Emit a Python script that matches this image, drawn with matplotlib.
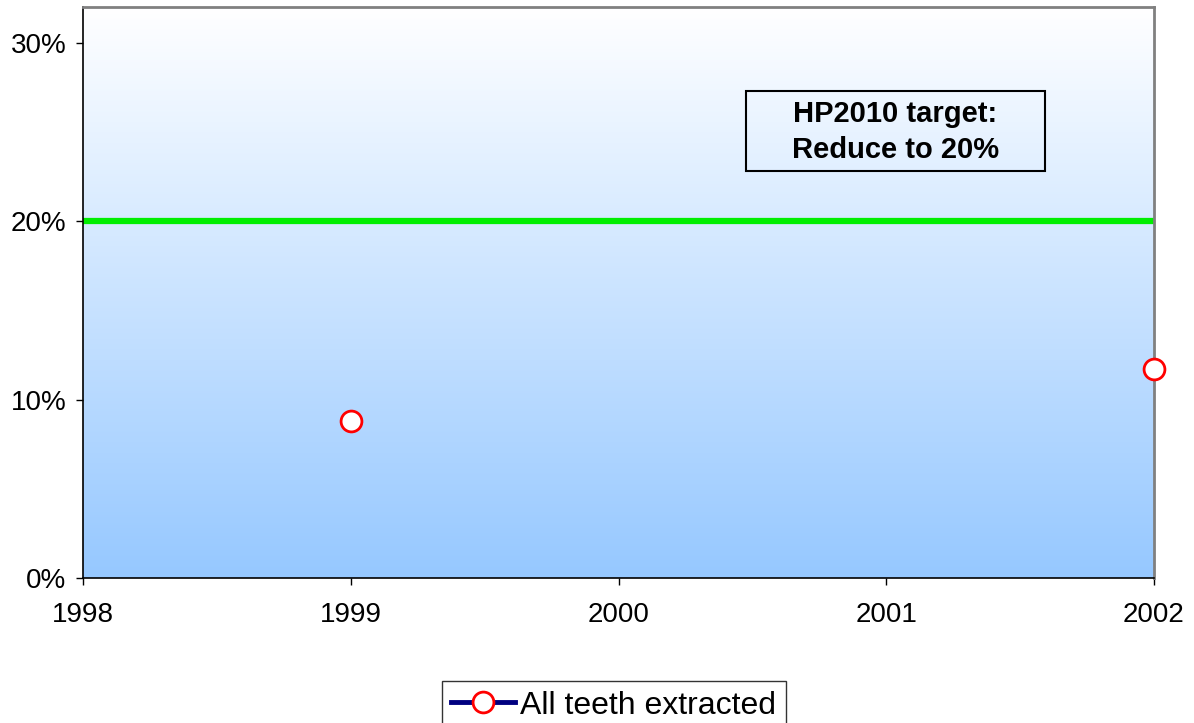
import numpy as np
import matplotlib.pyplot as plt
from matplotlib.colors import LinearSegmentedColormap
from matplotlib.patches import Rectangle
from matplotlib.ticker import FuncFormatter

years = [1999, 2002]
all_teeth = [0.088, 0.117]
target = 0.20
x_ticks = [1998, 1999, 2000, 2001, 2002]
y_ticks = [0.0, 0.1, 0.2, 0.3]

plt.rcParams['font.family'] = ['Liberation Sans', 'DejaVu Sans']

fig = plt.figure(figsize=(11.94, 7.23), dpi=100)
ax = fig.add_axes([83 / 1194, 1 - 578 / 723, (1154 - 83) / 1194, (578 - 7) / 723])

# background gradient, white at top to light blue at bottom
cmap = LinearSegmentedColormap.from_list('bg', ['#96c8ff', '#ffffff'])
grad = np.linspace(0, 1, 256).reshape(-1, 1)
ax.imshow(grad, aspect='auto', cmap=cmap, origin='lower',
          extent=[1998, 2002, 0, 0.32], zorder=0)

ax.axhline(target, color='#00ee00', linewidth=4.5, zorder=2)
ax.plot(years, all_teeth, color='#000080', linewidth=3, linestyle='none',
        marker='o', markersize=15, markerfacecolor='white',
        markeredgecolor='#ff0000', markeredgewidth=2, clip_on=False,
        zorder=3, label='All teeth extracted')
# legend handle shows the line too
handle, = ax.plot([], [], color='#000080', linewidth=3.5, marker='o',
                  markersize=15, markerfacecolor='white',
                  markeredgecolor='#ff0000', markeredgewidth=2)

ax.set_xlim(1998, 2002)
ax.set_ylim(0, 0.32)
ax.set_xticks(x_ticks)
ax.set_yticks(y_ticks)
ax.yaxis.set_major_formatter(FuncFormatter(lambda v, p: f'{v * 100:.0f}%'))
ax.tick_params(axis='both', direction='out', length=5, width=1,
               labelsize=20, colors='black')
ax.tick_params(axis='x', pad=12)
ax.tick_params(axis='y', pad=7)

for side in ['left', 'bottom']:
    ax.spines[side].set_color('black')
    ax.spines[side].set_linewidth(1.2)
for side in ['top', 'right']:
    ax.spines[side].set_color('#808080')
    ax.spines[side].set_linewidth(2)

# target annotation box
fig.add_artist(Rectangle((746 / 1194, 1 - 171 / 723), 299 / 1194, 80 / 723,
                         transform=fig.transFigure, facecolor='none',
                         edgecolor='black', linewidth=1.5))
fig.text(895.5 / 1194, 1 - 132 / 723, 'HP2010 target:\nReduce to 20%',
         ha='center', va='center', fontsize=21, fontweight='bold',
         linespacing=1.38)

fig.legend([handle], ['All teeth extracted'], loc='lower center',
           bbox_to_anchor=(0.514, -0.01), fontsize=23, frameon=True,
           fancybox=False, edgecolor='black', handlelength=2.0,
           handletextpad=0.15, borderpad=0.3, borderaxespad=0)

fig.savefig('out.png', dpi=100)
